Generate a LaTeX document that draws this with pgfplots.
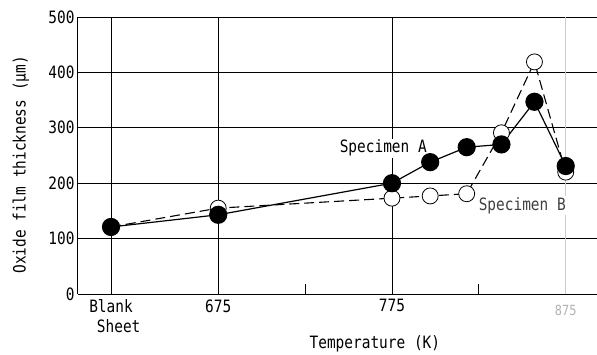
\documentclass[border=0pt]{standalone}
\usepackage{fontspec}
\setmainfont[FakeStretch=0.85]{DejaVu Sans Mono}
\usepackage{pgfplots}
\pgfplotsset{compat=1.18}
\begin{document}
\begin{tikzpicture}[font=\fontsize{17}{20}\selectfont]
\begin{axis}[
  scale only axis, width=519pt, height=277pt,
  xmin=594.3, xmax=893, ymin=0, ymax=500,
  axis x line*=bottom, axis y line*=left,
  axis line style={line width=1pt, -},
  xtick={613.3,675,775}, xticklabels={{Blank\\\hspace*{0.9em}Sheet},675,775},
  xticklabel style={align=center, anchor=north, yshift=-2pt},
  ytick={0,100,...,500},
  xmajorgrids, ymajorgrids,
  grid style={black, line width=0.8pt},
  major tick length=0pt,
  extra x ticks={725,825}, extra x tick labels={},
  extra x tick style={grid=none, major tick length=10pt, tick align=inside, tick style={black, line width=0.9pt}},
  /pgf/number format/assume math mode=true,
  xlabel={Temperature (K)},
  xlabel style={at={(axis description cs:0.572,0)}, anchor=north, yshift=-38pt},
  ylabel={Oxide film thickness (μm)},
  ylabel style={at={(axis description cs:-0.11,0.466)}, anchor=center},
  clip=false,
]
\draw[gray!40, line width=0.6pt] (axis cs:875,0) -- (axis cs:875,500);
\node[gray!60, anchor=north, yshift=-8pt, font=\fontsize{14}{16}\selectfont] at (axis cs:875,0) {875};
% Specimen B
\addplot[black, line width=1.1pt, dash pattern=on 10pt off 5pt, mark=*, mark size=8pt,
  mark options={solid, fill=white, draw=black, line width=0.8pt}]
  coordinates {(613.3,121) (675,155) (775,173) (797,177) (818,181) (838,291) (857,419) (875,220)};
% Specimen A
\addplot[black, line width=1.2pt, mark=*, mark size=8.5pt,
  mark options={solid, fill=black}]
  coordinates {(613.3,121) (675,143) (775,200) (797,238) (818,265) (838,270) (857,347) (875,231)};
\node[fill=white, inner sep=1pt] at (axis cs:770,263) {Specimen A};
\node[fill=white, inner sep=1pt, text=black!75] at (axis cs:850,160) {Specimen B};
\end{axis}
\pgfresetboundingbox
\path (-78pt,-60pt) rectangle (519pt,294pt);
\end{tikzpicture}
\end{document}
